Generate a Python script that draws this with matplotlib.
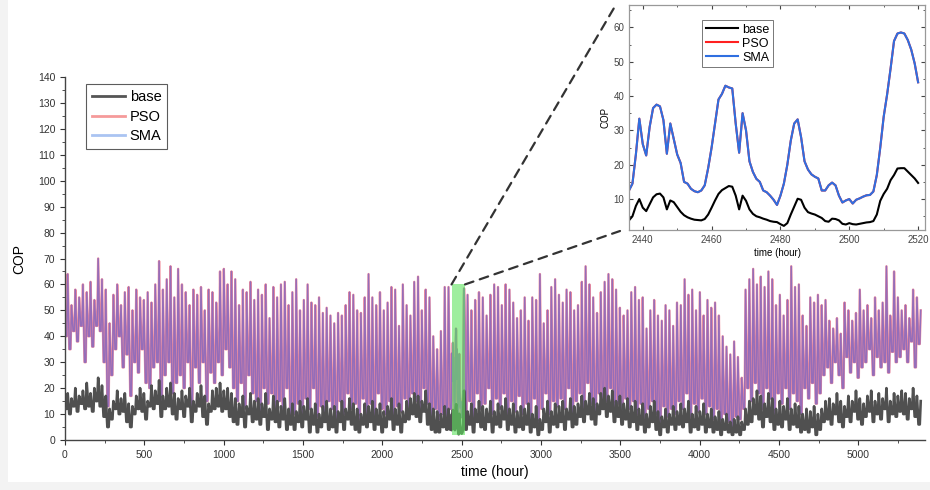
import numpy as np
import matplotlib
matplotlib.use("Agg")
import matplotlib.pyplot as plt
from matplotlib.patches import Rectangle, ConnectionPatch
from matplotlib.lines import Line2D
from matplotlib.ticker import MultipleLocator

plt.rcParams['font.family'] = ['Liberation Sans', 'DejaVu Sans']

# ---- daily peak / trough readings of the hourly series (day d = hours 24d..24d+23)
sma_hi = [64, 52, 58, 55, 60, 57, 61, 54, 70, 62,
          58, 45, 56, 60, 52, 57, 59, 50, 58, 55,
          54, 57, 53, 60, 69, 58, 62, 67, 55, 66,
          60, 57, 52, 58, 56, 59, 50, 58, 57, 53,
          65, 66, 60, 65, 62, 52, 58, 57, 61, 54,
          58, 56, 60, 47, 59, 55, 60, 61, 52, 57,
          62, 50, 54, 60, 53, 52, 55, 49, 51, 48,
          45, 49, 48, 52, 57, 56, 50, 49, 55, 64,
          55, 52, 57, 50, 53, 59, 58, 44, 60, 52,
          48, 61, 63, 50, 58, 55, 40, 35, 42, 59,
          59, 38, 43, 34, 58, 56, 50, 54, 57, 55,
          48, 56, 60, 59, 52, 60, 58, 53, 47, 50,
          55, 46, 55, 54, 64, 45, 50, 59, 62, 56,
          53, 58, 57, 50, 52, 61, 67, 60, 55, 49,
          57, 61, 64, 62, 58, 51, 48, 50, 57, 59,
          54, 55, 43, 50, 54, 48, 46, 52, 50, 44,
          53, 52, 62, 56, 58, 50, 57, 48, 54, 51,
          53, 48, 40, 36, 33, 38, 32, 24, 58, 62,
          66, 60, 63, 59, 65, 62, 52, 56, 48, 54,
          67, 59, 60, 48, 44, 55, 53, 56, 52, 54,
          46, 43, 47, 41, 53, 50, 46, 49, 58, 50,
          52, 47, 55, 50, 53, 67, 48, 65, 55, 50,
          52, 47, 58, 55, 50]
sma_lo = [40, 35, 42, 38, 44, 30, 40, 36, 44, 42,
          30, 13, 25, 35, 40, 28, 33, 17, 30, 26,
          35, 22, 20, 28, 30, 14, 25, 30, 18, 22,
          25, 20, 30, 12, 28, 22, 30, 15, 26, 22,
          30, 25, 35, 28, 20, 15, 22, 12, 25, 18,
          15, 10, 20, 14, 18, 10, 15, 12, 20, 8,
          10, 14, 8, 16, 12, 20, 9, 13, 10, 15,
          12, 8, 15, 10, 18, 12, 14, 8, 16, 10,
          14, 9, 18, 12, 10, 15, 8, 13, 11, 16,
          12, 18, 15, 10, 20, 14, 9, 12, 8, 10,
          8, 12, 12, 8, 9, 10, 15, 8, 18, 12,
          14, 20, 10, 16, 12, 18, 9, 15, 11, 17,
          10, 14, 8, 16, 5, 12, 18, 10, 15, 13,
          16, 12, 20, 10, 15, 18, 12, 22, 14, 10,
          18, 12, 15, 20, 10, 14, 8, 16, 12, 15,
          10, 14, 8, 12, 15, 10, 6, 13, 9, 12,
          10, 15, 12, 18, 9, 14, 11, 16, 10, 13,
          8, 12, 6, 10, 7, 5, 9, 8, 12, 20,
          15, 22, 18, 12, 20, 16, 10, 18, 14, 20,
          12, 18, 15, 10, 20, 16, 22, 14, 18, 25,
          28, 22, 30, 25, 20, 32, 26, 30, 24, 28,
          30, 35, 25, 32, 28, 30, 26, 34, 30, 32,
          35, 30, 38, 28, 37]
base_hi = [18, 16, 20, 17, 19, 22, 18, 20, 24, 21,
           17, 12, 15, 19, 16, 18, 14, 13, 17, 20,
           18, 15, 21, 19, 23, 17, 20, 22, 18, 16,
           19, 17, 20, 15, 18, 21, 17, 14, 19, 20,
           22, 19, 20, 18, 16, 14, 17, 13, 18, 15,
           16, 14, 18, 12, 17, 15, 13, 16, 12, 14,
           11, 15, 13, 16, 12, 14, 10, 13, 15, 12,
           13, 11, 15, 12, 16, 14, 12, 10, 14, 13,
           15, 12, 14, 11, 13, 16, 12, 14, 11, 15,
           16, 18, 17, 15, 19, 14, 12, 11, 10, 13,
           12, 12, 14, 10, 19, 11, 14, 12, 15, 13,
           12, 15, 11, 14, 13, 16, 12, 14, 11, 13,
           12, 14, 10, 13, 8, 12, 15, 11, 14, 13,
           15, 12, 16, 13, 14, 17, 15, 18, 16, 14,
           18, 20, 17, 19, 15, 17, 14, 16, 13, 15,
           12, 14, 10, 13, 15, 11, 9, 12, 10, 13,
           11, 14, 12, 15, 10, 13, 11, 14, 10, 12,
           9, 11, 8, 10, 7, 8, 9, 7, 12, 15,
           16, 19, 17, 14, 18, 16, 12, 15, 13, 16,
           12, 14, 13, 10, 12, 11, 13, 10, 12, 15,
           16, 14, 18, 15, 13, 17, 15, 19, 16, 14,
           17, 19, 15, 18, 16, 20, 15, 18, 17, 19,
           18, 16, 20, 17, 15]
base_lo = [12, 10, 13, 11, 14, 12, 13, 11, 15, 13,
           9, 5, 8, 12, 10, 11, 7, 5, 10, 12,
           11, 8, 13, 12, 14, 9, 12, 13, 10, 8,
           12, 9, 13, 7, 11, 13, 9, 6, 11, 12,
           13, 11, 12, 9, 7, 6, 9, 5, 10, 7,
           8, 6, 9, 4, 8, 7, 5, 8, 4, 6,
           4, 7, 5, 8, 3, 6, 3, 5, 7, 4,
           5, 3, 7, 4, 8, 6, 4, 3, 6, 5,
           7, 4, 6, 3, 5, 8, 4, 6, 3, 7,
           8, 10, 9, 7, 11, 6, 4, 3, 3, 5,
           4, 4, 4, 2, 3, 4, 6, 3, 7, 5,
           4, 7, 3, 6, 5, 8, 4, 6, 3, 5,
           4, 6, 3, 5, 2, 4, 7, 3, 6, 5,
           7, 4, 8, 5, 6, 9, 7, 10, 8, 6,
           10, 12, 9, 11, 7, 9, 6, 8, 5, 7,
           4, 6, 3, 5, 7, 4, 2, 5, 3, 6,
           4, 6, 5, 7, 3, 5, 4, 6, 3, 5,
           3, 4, 2, 4, 3, 2, 3, 2, 4, 6,
           7, 10, 8, 5, 9, 7, 4, 6, 5, 8,
           4, 6, 5, 3, 4, 3, 5, 2, 4, 7,
           8, 6, 10, 7, 5, 9, 7, 11, 8, 6,
           9, 11, 7, 10, 8, 12, 7, 10, 9, 11,
           10, 8, 12, 9, 6]

# ---- hourly readings inside the zoomed window (2436 .. 2520 h)
zoom_start = 2436
zoom_sma = [12.5, 14.5, 23, 33.4, 26, 22.7, 31, 36.5, 37.5, 37,
            33, 23.2, 32, 27.5, 23, 20.5, 15, 14.5, 13, 12.3,
            12, 12.5, 14, 19, 25, 32, 39, 40.6, 43, 42.5,
            42.2, 32, 23.5, 35, 30, 21, 17.9, 15.9, 15, 12.5,
            12, 11, 9.8, 8.3, 11, 14.5, 20, 27, 32, 33.2,
            28, 21, 18.6, 17.2, 16.5, 16, 12.5, 12.5, 14, 14.8,
            14, 11, 9, 9.6, 10, 8.7, 9.8, 10.2, 10.7, 11.1,
            11.2, 12.2, 17, 25, 34, 40.5, 48, 56, 58.2, 58.5,
            58.2, 56.3, 53.5, 49.5, 44]
zoom_base = [3.8, 5, 8, 10, 7.5, 6.5, 8.5, 10.5, 11.4, 11.6,
             10.5, 7, 9.6, 9.1, 7.7, 6.3, 5.3, 4.7, 4.3, 4,
             3.9, 3.8, 4.2, 5.5, 7.5, 9.6, 11.5, 12.6, 13.2, 13.8,
             13.6, 11, 7, 11, 9.5, 7, 5.7, 5, 4.7, 4.3,
             4, 3.6, 3.4, 3.3, 2.7, 2.2, 3, 5.5, 7.8, 10.1,
             9.8, 7.5, 6.2, 5.8, 5.5, 5, 4.5, 3.6, 3.4, 4.3,
             4.2, 3.8, 2.8, 2.6, 3, 2.7, 2.6, 2.8, 3, 3.2,
             3.3, 3.6, 5.5, 9.5, 11.5, 13, 15.5, 17, 18.9, 19,
             19, 18, 17, 16, 14.7]


def daily_series(lo, hi):
    # night/morning plateau at the trough reading, afternoon peak reading
    t, v = [], []
    for d, (a, b) in enumerate(zip(lo, hi)):
        t += [24 * d + 3, 24 * d + 11, 24 * d + 17]
        v += [a, a, b]
    return np.array(t, float), np.array(v, float)


def merge(t, v, zt, zv):
    keep = (t < zt[0]) | (t > zt[-1])
    tt = np.concatenate([t[keep], zt])
    vv = np.concatenate([v[keep], zv])
    o = np.argsort(tt, kind='stable')
    return tt[o], vv[o]


zt = np.arange(zoom_start, zoom_start + len(zoom_sma), dtype=float)
t_s, v_s = merge(*daily_series(sma_lo, sma_hi), zt, np.array(zoom_sma))
t_b, v_b = merge(*daily_series(base_lo, base_hi), zt, np.array(zoom_base))

W, H = 930, 490
fig = plt.figure(figsize=(W / 100, H / 100), dpi=100, facecolor='#f3f3f3')
fig.patches.append(Rectangle((8 / W, 1 - 482 / H), 1, 1, transform=fig.transFigure,
                             facecolor='white', edgecolor='none', zorder=-10))

# ---------------- main axes
ax = fig.add_axes([65 / W, 1 - 440 / H, 860 / W, 363 / H])
ax.set_facecolor('none')
ax.plot(t_s, v_s, color='#e8304a', alpha=0.55, lw=1.7, zorder=2)
ax.plot(t_s, v_s, color='#3a4fd8', alpha=0.5, lw=1.1, zorder=2.1)
ax.plot(t_b, v_b, color='#505050', lw=1.9, zorder=3)
ax.set_xlim(0, 5420)
ax.set_ylim(0, 140)
ax.spines['top'].set_visible(False)
ax.spines['right'].set_visible(False)
for s in ('left', 'bottom'):
    ax.spines[s].set_color('#444444')
    ax.spines[s].set_linewidth(1.0)
ax.xaxis.set_major_locator(MultipleLocator(500))
ax.xaxis.set_minor_locator(MultipleLocator(250))
ax.yaxis.set_major_locator(MultipleLocator(10))
ax.yaxis.set_minor_locator(MultipleLocator(5))
ax.tick_params(which='both', direction='out', labelsize=7.5, colors='#333333')
ax.tick_params(which='major', length=3.5)
ax.tick_params(which='minor', length=2)
ax.set_xlabel('time (hour)', fontsize=10, labelpad=4)
ax.set_ylabel('COP', fontsize=10, labelpad=8)

handles = [Line2D([], [], color='#555555', lw=2.0),
           Line2D([], [], color='#f59a9a', lw=2.0),
           Line2D([], [], color='#aac4f2', lw=2.0)]
leg = ax.legend(handles, ['base', 'PSO', 'SMA'], loc='upper left',
                bbox_to_anchor=(21 / 860, 356 / 363), fontsize=10.5, frameon=True,
                fancybox=False, edgecolor='#333333', handlelength=2.3,
                handletextpad=0.3, borderpad=0.4, labelspacing=0.4, borderaxespad=0)
leg.get_frame().set_linewidth(0.8)

# green highlighted window
x0, x1 = zoom_start, zoom_start + len(zoom_sma)
ax.add_patch(Rectangle((x0, 2), x1 - x0, 58, facecolor='#5ee35e', alpha=0.6,
                       edgecolor='none', zorder=4))

# ---------------- inset
axin = fig.add_axes([629 / W, 1 - 230 / H, 296 / W, 225 / H])
axin.plot(zt, zoom_base, color='black', lw=1.5, label='base')
axin.plot(zt, zoom_sma, color='#ff2020', lw=1.5, label='PSO')
axin.plot(zt, zoom_sma, color='#2f6fe0', lw=1.5, label='SMA')
axin.set_xlim(2436, 2522)
axin.set_ylim(1, 66.5)
axin.xaxis.set_major_locator(MultipleLocator(20))
axin.xaxis.set_minor_locator(MultipleLocator(10))
axin.yaxis.set_major_locator(MultipleLocator(10))
axin.yaxis.set_minor_locator(MultipleLocator(5))
axin.tick_params(which='both', direction='in', top=True, right=True,
                 labelsize=7, colors='#444444')
axin.tick_params(which='major', length=3)
axin.tick_params(which='minor', length=1.5)
for s in axin.spines.values():
    s.set_color('#999999')
    s.set_linewidth(0.9)
axin.set_xlabel('time (hour)', fontsize=7, labelpad=2)
axin.set_ylabel('COP', fontsize=7, labelpad=2)
leg2 = axin.legend(loc='upper left', bbox_to_anchor=(73 / 296, 210 / 225), fontsize=9,
                   frameon=True, fancybox=False, edgecolor='#555555', handlelength=2.6,
                   handletextpad=0.3, borderpad=0.3, labelspacing=0.15, borderaxespad=0)
leg2.get_frame().set_linewidth(0.7)

# dashed connectors
for xa, pix in ((x0, (614, 8)), (x1, (620, 231))):
    cp = ConnectionPatch(xyA=(xa, 60), coordsA=ax.transData,
                         xyB=(pix[0] / W, 1 - pix[1] / H), coordsB=fig.transFigure,
                         linestyle=(0, (4, 3)), color='#333333', lw=1.6, zorder=5)
    fig.add_artist(cp)

fig.savefig('out.png', dpi=100, facecolor=fig.get_facecolor())
